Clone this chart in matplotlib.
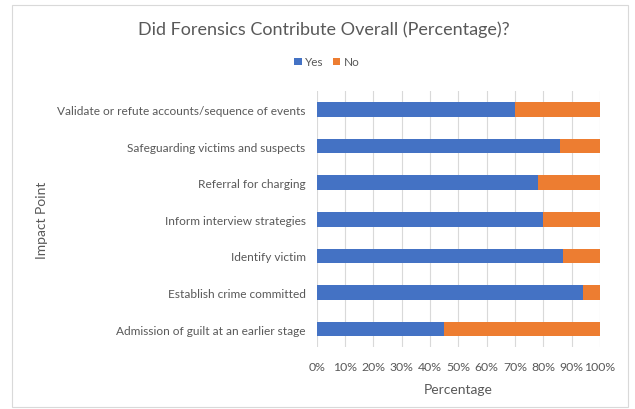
import matplotlib.pyplot as plt
from matplotlib.patches import Rectangle

categories = [
    'Validate or refute accounts/sequence of events',
    'Safeguarding victims and suspects',
    'Referral for charging',
    'Inform interview strategies',
    'Identify victim',
    'Establish crime committed',
    'Admission of guilt at an earlier stage',
]
yes = [70, 86, 78, 80, 87, 94, 45]
no = [100 - v for v in yes]
xticks = list(range(0, 101, 10))

plt.rcParams['font.family'] = ['Lato', 'DejaVu Sans']
txt = '#595959'

fig = plt.figure(figsize=(6.35, 4.1), dpi=100)
fig.patches.append(Rectangle((12 / 635, 0.005), 616 / 635, 1 - 6 / 410 - 0.005,
                             transform=fig.transFigure, fill=False,
                             edgecolor='#D9D9D9', linewidth=0.8))
ax = fig.add_axes([316.7 / 635, 1 - 348.3 / 410, 283.3 / 635, 256 / 410])

ypos = list(range(len(categories)))[::-1]
ax.barh(ypos, yes, height=0.4, color='#4472C4', label='Yes', zorder=3)
ax.barh(ypos, no, left=yes, height=0.4, color='#ED7D31', label='No', zorder=3)

ax.set_xlim(0, 100)
ax.set_ylim(-0.5, len(categories) - 0.5)
ax.set_xticks(xticks)
ax.set_xticklabels([f'{t}%' for t in xticks], fontsize=8.8, color=txt)
ax.set_yticks(ypos)
ax.set_yticklabels(categories, fontsize=8.6, color=txt)
ax.tick_params(length=0, pad=10)
ax.tick_params(axis='y', pad=8)
ax.grid(axis='x', color='#D9D9D9', linewidth=0.8, zorder=0)
for s in ax.spines.values():
    s.set_visible(False)

ax.set_xlabel('Percentage', fontsize=10, color=txt, labelpad=8)
fig.text(42 / 635, 1 - 220 / 410, 'Impact Point', rotation=90, fontsize=10,
         color=txt, ha='center', va='center')
fig.text(0.51, 1 - 30 / 410, 'Did Forensics Contribute Overall (Percentage)?',
         fontsize=13, color=txt, ha='center', va='center')
fig.legend(loc='center', bbox_to_anchor=(0.515, 1 - 63 / 410), ncol=2, frameon=False,
           fontsize=8.5, handlelength=0.6, handleheight=0.6, columnspacing=0.8,
           handletextpad=0.3, labelcolor=txt)

plt.savefig('out.png', dpi=100)
